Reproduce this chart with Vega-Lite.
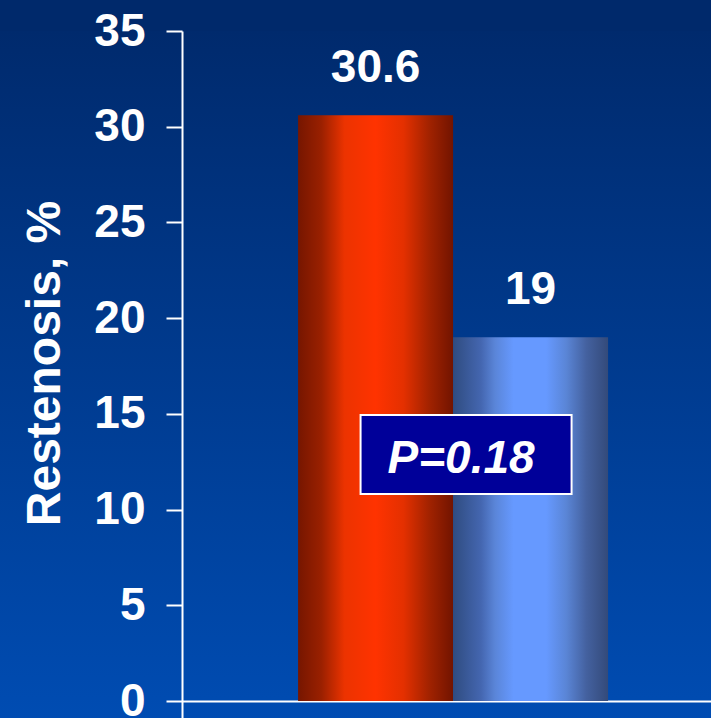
{
  "$schema": "https://vega.github.io/schema/vega-lite/v6.json",
  "autosize": "none",
  "width": 711,
  "height": 687,
  "padding": {"top": 31, "left": 0, "right": 0, "bottom": 0},
  "background": "#00296b",
  "view": {
    "stroke": null,
    "fill": {
      "gradient": "linear",
      "x1": 0, "y1": 0, "x2": 0, "y2": 1,
      "stops": [
        {"offset": 0, "color": "#002a6d"},
        {"offset": 1, "color": "#004cb2"}
      ]
    }
  },
  "datasets": {
    "rates": [
      {"arm": "Group A", "restenosis": 30.6},
      {"arm": "Group B", "restenosis": 19}
    ],
    "notes": [
      {"arm": "Group B", "note": "P=0.18", "ypos": 12.88}
    ]
  },
  "layer": [
    {
      "data": {"name": "rates"},
      "encoding": {
        "x": {
          "field": "arm",
          "type": "nominal",
          "scale": {
            "domain": ["Group A", "Group B"],
            "range": [182, 711],
            "paddingInner": 0,
            "paddingOuter": 0.7065,
            "align": 0.53
          },
          "axis": {
            "orient": "bottom",
            "offset": -17,
            "domainColor": "white",
            "domainWidth": 2,
            "ticks": false,
            "labels": false,
            "title": null,
            "grid": false
          }
        },
        "y": {
          "field": "restenosis",
          "type": "quantitative",
          "scale": {"domain": [-0.888, 35], "nice": false, "zero": false},
          "axis": {
            "orient": "left",
            "offset": -182,
            "values": [0, 5, 10, 15, 20, 25, 30, 35],
            "grid": false,
            "domainColor": "white",
            "domainWidth": 2,
            "tickColor": "white",
            "tickWidth": 2,
            "tickSize": 16,
            "labelColor": "white",
            "labelFont": "Liberation Sans",
            "labelFontWeight": "bold",
            "labelFontSize": 46,
            "labelPadding": 21,
            "labelOverlap": false,
            "title": "Restenosis, %",
            "titleColor": "white",
            "titleFont": "Liberation Sans",
            "titleFontWeight": "bold",
            "titleFontSize": 48,
            "titleAngle": 270,
            "titleAlign": "center",
            "titleBaseline": "alphabetic",
            "titleX": -123,
            "titleY": 332
          }
        }
      },
      "layer": [
        {
          "transform": [{"filter": "datum.arm === 'Group A'"}],
          "mark": {
            "type": "bar",
            "fill": {
              "gradient": "linear",
              "x1": 0, "y1": 0, "x2": 1, "y2": 0,
              "stops": [
                {"offset": 0, "color": "#761600"},
                {"offset": 0.15, "color": "#9a2000"},
                {"offset": 0.3, "color": "#ec3300"},
                {"offset": 0.5, "color": "#ff3300"},
                {"offset": 0.68, "color": "#e43000"},
                {"offset": 0.85, "color": "#a02200"},
                {"offset": 1, "color": "#721400"}
              ]
            }
          }
        },
        {
          "transform": [{"filter": "datum.arm === 'Group B'"}],
          "mark": {
            "type": "bar",
            "fill": {
              "gradient": "linear",
              "x1": 0, "y1": 0, "x2": 1, "y2": 0,
              "stops": [
                {"offset": 0, "color": "#2f4c80"},
                {"offset": 0.18, "color": "#4466b0"},
                {"offset": 0.27, "color": "#5a85d8"},
                {"offset": 0.39, "color": "#6699ff"},
                {"offset": 0.6, "color": "#6699ff"},
                {"offset": 0.73, "color": "#5a85d6"},
                {"offset": 0.86, "color": "#44619f"},
                {"offset": 1, "color": "#334a7a"}
              ]
            }
          }
        },
        {
          "mark": {
            "type": "text",
            "baseline": "alphabetic",
            "align": "center",
            "dy": -33,
            "font": "Liberation Sans",
            "fontWeight": "bold",
            "fontSize": 46,
            "color": "white"
          },
          "encoding": {
            "text": {"field": "restenosis", "type": "quantitative"}
          }
        }
      ]
    },
    {
      "data": {"name": "notes"},
      "encoding": {
        "x": {"field": "arm", "type": "nominal", "bandPosition": 0},
        "y": {"field": "ypos", "type": "quantitative"}
      },
      "layer": [
        {
          "mark": {
            "type": "point",
            "shape": "M-1,-0.3744H1V0.3744H-1Z",
            "size": 44521,
            "filled": true,
            "fill": "#000099",
            "stroke": "white",
            "strokeWidth": 2,
            "opacity": 1,
            "xOffset": 13
          }
        },
        {
          "mark": {
            "type": "text",
            "baseline": "alphabetic",
            "align": "center",
            "font": "Liberation Sans",
            "fontWeight": "bold",
            "fontStyle": "italic",
            "fontSize": 46,
            "color": "white",
            "xOffset": 8,
            "dy": 18.5
          },
          "encoding": {
            "text": {"field": "note", "type": "nominal"}
          }
        }
      ]
    }
  ]
}
